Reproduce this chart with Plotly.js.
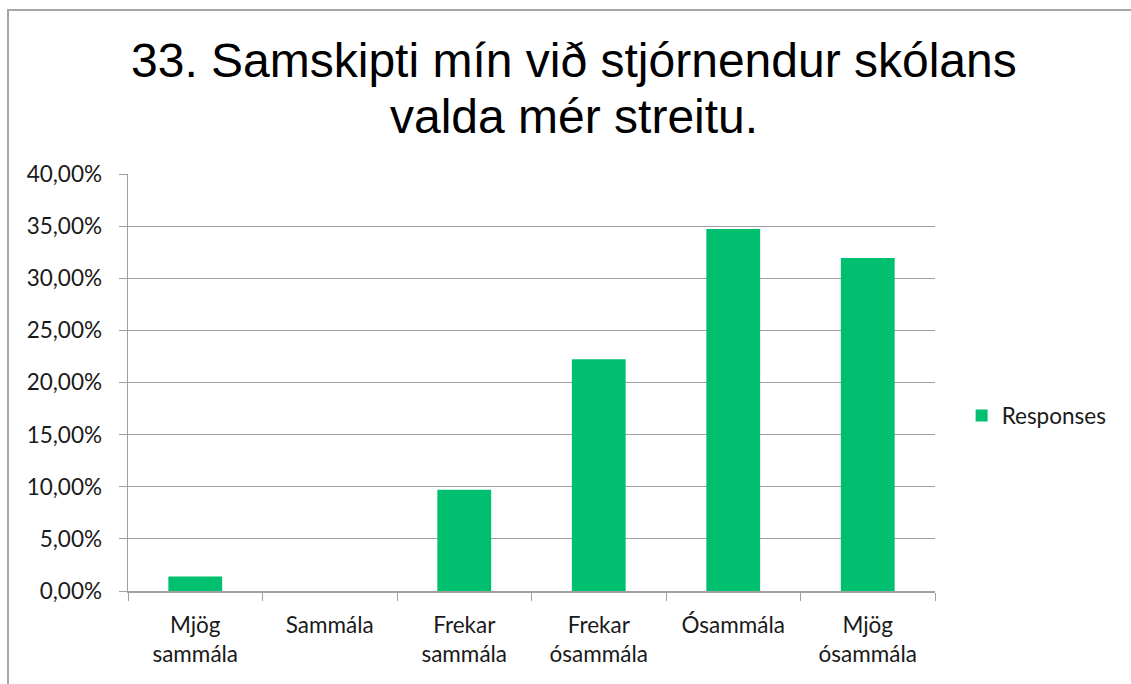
<!DOCTYPE html>
<html><head><meta charset="utf-8">
<script src="https://cdn.plot.ly/plotly-3.0.1.min.js"></script>
<style>html,body{margin:0;padding:0;background:#fff;}#frame{position:absolute;left:7px;top:9px;width:1200px;height:800px;border-top:2px solid #a6a6a6;border-left:2px solid #a6a6a6;pointer-events:none;}#chart{position:absolute;left:0;top:0;width:1131px;height:684px;}</style>
</head><body>
<div id="chart"></div><div id="frame"></div>
<script>
const categories = ["Mjög<br>sammála", "Sammála", "Frekar<br>sammála", "Frekar<br>ósammála", "Ósammála", "Mjög<br>ósammála"];
const responses = [0.0139, 0.0, 0.0972, 0.2222, 0.3472, 0.3194];
const tickVals = [0, 0.05, 0.10, 0.15, 0.20, 0.25, 0.30, 0.35, 0.40];
const titleLines = ["33. Samskipti mín við stjórnendur skólans", "valda mér streitu."];

const tickFont = {family: "Lato, 'Open Sans', sans-serif", size: 22.5, color: "#1a1a1a"};
const titleFont = {family: "'Liberation Sans', Arial, sans-serif", size: 48, color: "#000"};
Plotly.newPlot("chart", [{
  type: "bar", x: categories, y: responses, name: "Responses",
  marker: {color: "#00c070"}, hoverinfo: "none"
}], {
  width: 1131, height: 684,
  margin: {l: 128, r: 196, t: 174, b: 93},
  paper_bgcolor: "rgba(0,0,0,0)", plot_bgcolor: "rgba(0,0,0,0)",
  separators: ",.",
  bargap: 0.6,
  showlegend: true,
  legend: {x: 1.033, xanchor: "left", y: 0.42, yanchor: "middle", font: tickFont},
  annotations: [
    {text: titleLines[0], xref: "paper", yref: "paper", x: (574-128)/807, y: (591-61)/417, xanchor: "center", yanchor: "middle", showarrow: false, font: titleFont},
    {text: titleLines[1], xref: "paper", yref: "paper", x: (574-128)/807, y: (591-117)/417, xanchor: "center", yanchor: "middle", showarrow: false, font: titleFont}
  ],
  xaxis: {type: "category", tickfont: tickFont, showline: true, linecolor: "#a0a0a0", linewidth: 1.5,
    ticks: "outside", tickson: "boundaries", ticklen: 8, tickcolor: "#a0a0a0", ticklabelstandoff: 13,
    showgrid: false, fixedrange: true},
  yaxis: {range: [0, 0.40], tickvals: tickVals, tickformat: ".2%", tickfont: tickFont,
    showline: true, linecolor: "#a0a0a0", linewidth: 1.5, ticks: "outside", ticklen: 8, tickcolor: "#a0a0a0",
    ticklabelstandoff: 12, gridcolor: "#a0a0a0", gridwidth: 1, zeroline: false, fixedrange: true}
}, {displayModeBar: false, staticPlot: true});
</script>
</body></html>
